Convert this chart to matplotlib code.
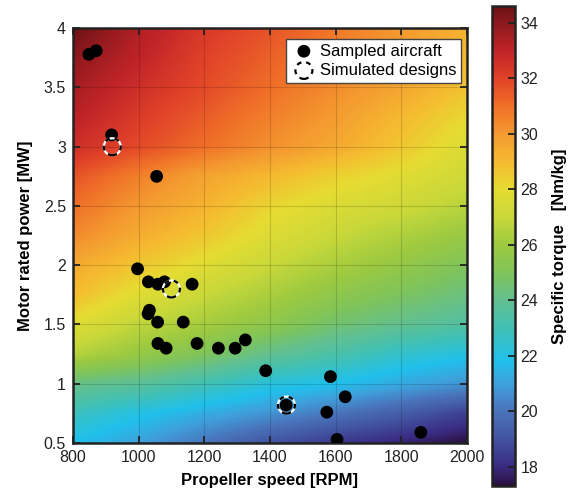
import numpy as np
import matplotlib
matplotlib.use("Agg")
import matplotlib.pyplot as plt
from matplotlib.colors import LinearSegmentedColormap

plt.rcParams['font.family'] = ['Liberation Sans', 'DejaVu Sans']

# specific torque map [Nm/kg] at grid nodes
rpm_grid = [800, 1000, 1200, 1400, 1600, 1800, 2000]
power_grid = [0.5, 0.75, 1.0, 1.25, 1.5, 1.75, 2.0, 2.25, 2.5, 2.75, 3.0, 3.25, 3.5, 3.75, 4.0]
torque_grid = [
    [21.8, 21.0, 20.0, 19.0, 18.3, 17.8, 17.3],
    [22.8, 22.0, 21.3, 20.7, 20.0, 19.3, 18.5],
    [24.2, 23.8, 23.0, 22.2, 21.8, 21.2, 20.7],
    [26.6, 25.8, 25.0, 24.0, 23.3, 22.5, 22.0],
    [27.8, 26.8, 26.2, 25.5, 24.6, 24.0, 23.5],
    [28.9, 27.8, 27.0, 26.3, 25.5, 24.9, 24.3],
    [29.5, 28.6, 27.8, 27.0, 26.3, 25.7, 25.0],
    [30.4, 29.4, 28.6, 27.7, 27.0, 26.4, 25.8],
    [31.0, 30.0, 29.2, 28.2, 27.6, 27.2, 26.6],
    [31.6, 30.6, 29.7, 29.0, 28.3, 27.8, 27.2],
    [32.6, 31.8, 31.0, 30.2, 29.5, 28.6, 27.6],
    [33.1, 32.2, 31.4, 30.6, 29.9, 29.0, 28.1],
    [33.5, 32.6, 31.8, 31.0, 30.3, 29.6, 28.7],
    [34.0, 33.0, 32.0, 31.3, 30.5, 29.8, 29.0],
    [34.6, 33.3, 32.3, 31.6, 30.8, 30.0, 29.2],
]

# sampled aircraft
aircraft_rpm = [849, 871, 918, 1055, 997, 1030, 1059, 1079, 1163, 1029, 1033, 1058, 1136,
                1059, 1084, 1178, 1243, 1294, 1325, 1387, 1449, 1584, 1629, 1573, 1604, 1859]
aircraft_mw = [3.78, 3.81, 3.10, 2.75, 1.97, 1.86, 1.84, 1.86, 1.84, 1.59, 1.62, 1.52, 1.52,
               1.34, 1.30, 1.34, 1.30, 1.30, 1.37, 1.11, 0.82, 1.06, 0.89, 0.76, 0.53, 0.59]

# simulated designs
design_rpm = [920, 1100, 1450]
design_mw = [3.0, 1.8, 0.82]

cbar_ticks = [18, 20, 22, 24, 26, 28, 30, 32, 34]
vmin, vmax = 17.3, 34.6

cmap_stops = [
    (17.3, '#2a1040'), (18.0, '#3a2c82'), (19.0, '#4354a2'), (20.0, '#4a74bc'),
    (21.0, '#3ea2dc'), (21.8, '#20c0ec'), (23.0, '#42c0b4'), (24.0, '#62c090'),
    (25.0, '#80c45a'), (26.0, '#9eca40'), (27.0, '#c8d83a'), (28.0, '#e6dc32'),
    (29.0, '#f6ba30'), (30.0, '#f49a30'), (31.0, '#f07028'), (32.0, '#e14228'),
    (33.0, '#c02428'), (34.6, '#6e1216'),
]
cmap = LinearSegmentedColormap.from_list(
    'torque', [((v - vmin) / (vmax - vmin), c) for v, c in cmap_stops])

fig = plt.figure(figsize=(5.69, 4.92), dpi=100)
ax = fig.add_axes([0.128, 0.0996, 0.693, 0.843])
cax = fig.add_axes([0.865, 0.012, 0.040, 0.976])

dx = (rpm_grid[1] - rpm_grid[0]) / 2
dy = (power_grid[1] - power_grid[0]) / 2
im = ax.imshow(np.array(torque_grid), origin='lower', aspect='auto', cmap=cmap,
               vmin=vmin, vmax=vmax, interpolation='bilinear', interpolation_stage='data',
               extent=[rpm_grid[0] - dx, rpm_grid[-1] + dx, power_grid[0] - dy, power_grid[-1] + dy],
               zorder=0)

h_air = ax.scatter(aircraft_rpm, aircraft_mw, s=85, c='k', edgecolors='none', zorder=3)
ax.scatter(design_rpm, design_mw, s=150, facecolors='none', edgecolors='white',
           linewidths=1.6, zorder=4)
h_des = ax.scatter(design_rpm, design_mw, s=150, facecolors='none', edgecolors='k',
                   linewidths=1.6, linestyles=(0, (2.2, 2.2)), zorder=5)

ax.set_xlim(800, 2000)
ax.set_ylim(0.5, 4)
ax.set_xticks([800, 1000, 1200, 1400, 1600, 1800, 2000])
ax.set_yticks([0.5, 1, 1.5, 2, 2.5, 3, 3.5, 4])
ax.set_yticklabels(['0.5', '1', '1.5', '2', '2.5', '3', '3.5', '4'])
ax.grid(True, color='k', alpha=0.15, linewidth=0.8)
ax.tick_params(direction='in', length=5, width=1.3, top=True, right=True,
               labelsize=11.5, colors='#222222', pad=5)
for sp in ax.spines.values():
    sp.set_linewidth(1.8)
    sp.set_color('#222222')
ax.set_xlabel('Propeller speed [RPM]', fontsize=12, fontweight='bold', labelpad=6)
ax.set_ylabel('Motor rated power [MW]', fontsize=12, fontweight='bold', labelpad=8)

leg = ax.legend([h_air, h_des], ['Sampled aircraft', 'Simulated designs'], loc='upper right',
                bbox_to_anchor=(0.985, 0.975), fontsize=12, frameon=True, fancybox=False,
                borderpad=0.3, handletextpad=0.2, labelspacing=0.25, handlelength=1.5,
                borderaxespad=0, scatterpoints=1)
leg.get_frame().set_edgecolor('#444444')
leg.get_frame().set_linewidth(1.0)
leg.get_frame().set_alpha(1)

cb = fig.colorbar(im, cax=cax, ticks=cbar_ticks)
cb.outline.set_linewidth(1.8)
cb.outline.set_edgecolor('#222222')
cax.tick_params(direction='in', length=5, width=1.3, labelsize=11.5, colors='#222222', pad=4)
cb.set_label('Specific torque   [Nm/kg]', fontsize=12, fontweight='bold', labelpad=10)

fig.savefig('out.png', dpi=100)
